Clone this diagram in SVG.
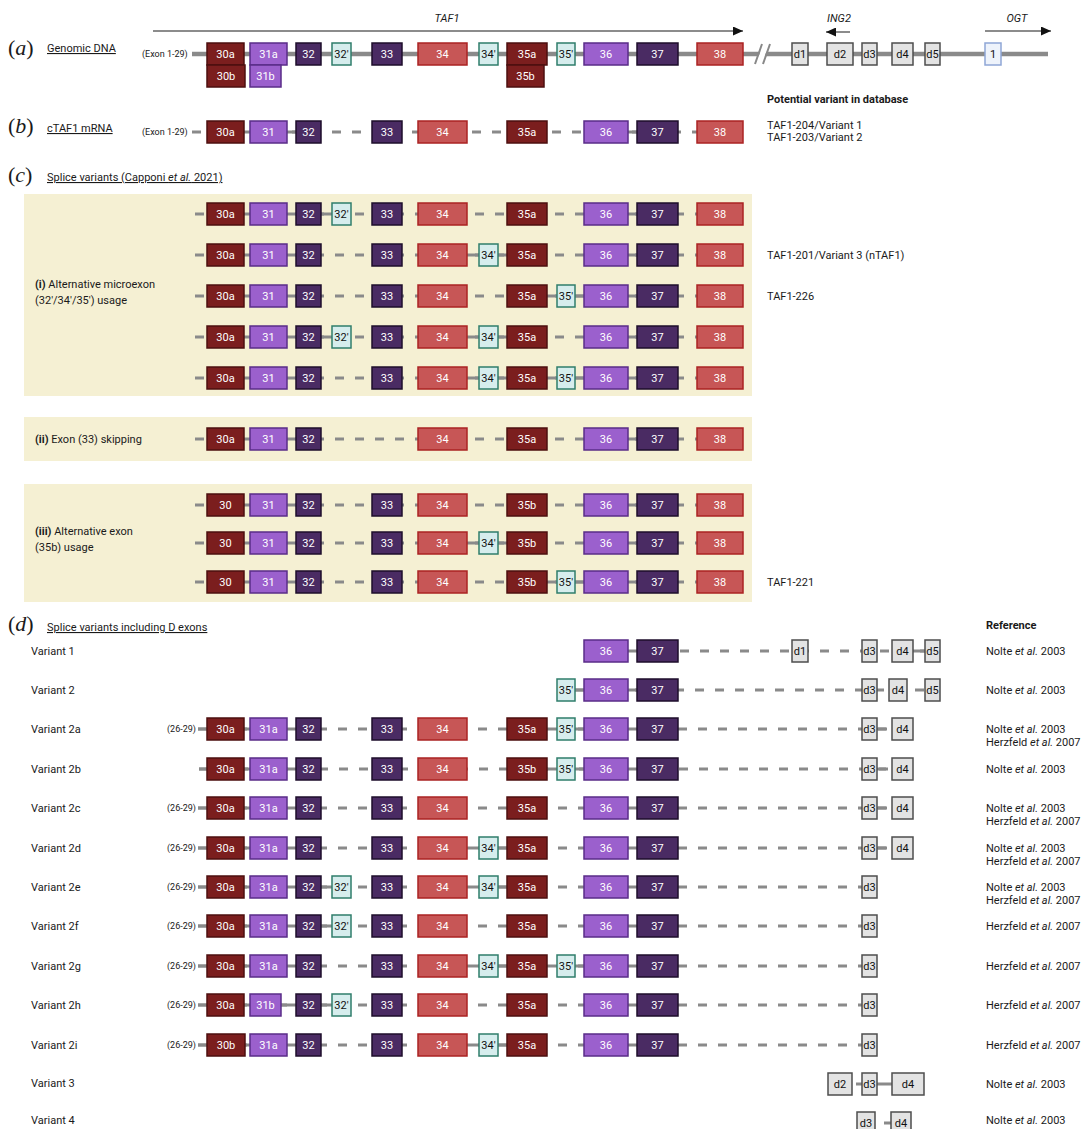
<svg xmlns="http://www.w3.org/2000/svg" width="1087" height="1129" viewBox="0 0 1087 1129">
<defs>
<style>
text{font-family:Roboto,"Liberation Sans",sans-serif;font-size:11px;fill:#1a1a1a}
.w{fill:#fff;text-anchor:middle}
.k{fill:#111;text-anchor:middle}
.sm{font-size:9px}
.b{font-weight:bold}
.u{text-decoration:underline}
.sec{font-family:"Liberation Serif",serif;font-size:22px}
.it{font-style:italic}
rect{stroke-width:1.5}
.dr{fill:#7b1e1e;stroke:#4c0f0f}
.mp{fill:#9b60cd;stroke:#5a2c88}
.dp{fill:#4a2b63;stroke:#1e0e2b}
.sr{fill:#c75656;stroke:#ab2323}
.mx{fill:#d6eded;stroke:#2f7d6b}
.dx{fill:#e3e3e3;stroke:#4d4d4d}
.og{fill:#eef3fb;stroke:#8fa6d6}
.pn{fill:#f5f0d3;stroke:none}
.ln{stroke:#8a8a8a;stroke-width:3;fill:none}
.dsh{stroke-dasharray:9 11}
.gen{stroke:#8a8a8a;stroke-width:4.5;fill:none}
.ar{stroke:#666;stroke-width:1.5;fill:none;marker-end:url(#ah)}
</style>
<marker id="ah" markerUnits="userSpaceOnUse" markerWidth="10" markerHeight="9" refX="10" refY="4.5" orient="auto"><path d="M0,0L10,4.5L0,9z" fill="#111"/></marker>
</defs>
<rect width="1087" height="1129" fill="#fff"/>
<g id="panels">
<rect class="pn" x="24" y="194" width="728" height="202"/>
<rect class="pn" x="24" y="417" width="728" height="44"/>
<rect class="pn" x="24" y="484" width="728" height="118"/>
</g>
<g id="connectors">
<path class="gen" d="M192 54H1048"/>
<polygon points="756,64 763,44 769,44 762,64" fill="#fff"/>
<path d="M755 64L762 44M763 64L770 44" stroke="#888" stroke-width="2" fill="none"/>
<path class="ar" d="M153 31H743"/>
<path class="ar" d="M850 32H826"/>
<path class="ar" d="M985 31H1051"/>
<path class="ln dsh" d="M192 132H743M195 214H743M195 255H743M195 296H743M195 337H743M195 378H743M195 439H743M195 505H743M195 543H743M195 582H743"/>
<path class="ln" d="M244 132H250M287 132H296M628 132H637"/>
<path class="ln" d="M244 214H250M287 214H296M321 214H332M628 214H637"/>
<path class="ln" d="M244 255H250M287 255H296M467 255H479M498 255H507M628 255H637"/>
<path class="ln" d="M244 296H250M287 296H296M547 296H557M575 296H584M628 296H637"/>
<path class="ln" d="M244 337H250M287 337H296M321 337H332M467 337H479M498 337H507M628 337H637"/>
<path class="ln" d="M244 378H250M287 378H296M467 378H479M498 378H507M547 378H557M575 378H584M628 378H637"/>
<path class="ln" d="M244 439H250M287 439H296M628 439H637"/>
<path class="ln" d="M244 505H250M287 505H296M628 505H637"/>
<path class="ln" d="M244 543H250M287 543H296M467 543H479M498 543H507M628 543H637"/>
<path class="ln" d="M244 582H250M287 582H296M547 582H557M575 582H584M628 582H637"/>
<path class="ln dsh" d="M680 651H925M575 690H940M198 729H892M199 769H892M198 808H892M198 848H892M198 887H862M198 926H862M198 966H862M198 1005H862M198 1045H862"/>
<path class="ln" d="M628 651H637M913 651H925"/>
<path class="ln" d="M575 690H584M628 690H637"/>
<path class="ln" d="M198 729H207M244 729H250M287 729H296M547 729H557M575 729H584M628 729H637M877 729H886"/>
<path class="ln" d="M199 769H207M244 769H250M287 769H296M547 769H557M575 769H584M628 769H637M877 769H886"/>
<path class="ln" d="M198 808H207M244 808H250M287 808H296M628 808H637M877 808H886"/>
<path class="ln" d="M198 848H207M244 848H250M287 848H296M467 848H479M498 848H507M628 848H637M877 848H886"/>
<path class="ln" d="M198 887H207M244 887H250M287 887H296M321 887H332M467 887H479M498 887H507M628 887H637"/>
<path class="ln" d="M198 926H207M244 926H250M287 926H296M321 926H332M628 926H637"/>
<path class="ln" d="M198 966H207M244 966H250M287 966H296M467 966H479M498 966H507M547 966H557M575 966H584M628 966H637"/>
<path class="ln" d="M198 1005H207M244 1005H250M281 1005H296M321 1005H332M628 1005H637"/>
<path class="ln" d="M198 1045H207M244 1045H250M287 1045H296M467 1045H479M498 1045H507M628 1045H637"/>
<path class="ln" d="M856 1084H862M877 1084H892M884 1123H891"/>
</g>
<g id="labels">
<text class="sec" x="8" y="55">(<tspan class="it">a</tspan>)</text>
<text class="u" x="47" y="52">Genomic DNA</text>
<text class="sm" x="142" y="57">(Exon 1-29)</text>
<text class="it" x="447" y="22" font-size="12" text-anchor="middle">TAF1</text>
<text class="it" x="839" y="22" font-size="12" text-anchor="middle">ING2</text>
<text class="it" x="1017" y="22" font-size="12" text-anchor="middle">OGT</text>
<text class="b" x="767" y="103">Potential variant in database</text>
<text x="767" y="129">TAF1-204/Variant 1</text>
<text x="767" y="141">TAF1-203/Variant 2</text>
<text class="sec" x="8" y="133">(<tspan class="it">b</tspan>)</text>
<text class="u" x="47" y="132">cTAF1 mRNA</text>
<text class="sm" x="142" y="135">(Exon 1-29)</text>
<text class="sec" x="8" y="182">(<tspan class="it">c</tspan>)</text>
<text class="u" x="47" y="181">Splice variants (Capponi <tspan class="it">et al.</tspan> 2021)</text>
<text x="35" y="288"><tspan class="b">(i)</tspan> Alternative microexon</text>
<text x="35" y="304">(32′/34′/35′) usage</text>
<text x="35" y="443"><tspan class="b">(ii)</tspan> Exon (33) skipping</text>
<text x="35" y="535"><tspan class="b">(iii)</tspan> Alternative exon</text>
<text x="35" y="551">(35b) usage</text>
<text x="767" y="259">TAF1-201/Variant 3 (nTAF1)</text>
<text x="767" y="300">TAF1-226</text>
<text x="767" y="586">TAF1-221</text>
<text class="sec" x="8" y="631">(<tspan class="it">d</tspan>)</text>
<text class="u" x="47" y="631">Splice variants including D exons</text>
<text class="b" x="986" y="629">Reference</text>
<text x="31" y="655">Variant 1</text>
<text x="31" y="694">Variant 2</text>
<text x="31" y="733">Variant 2a</text>
<text x="31" y="773">Variant 2b</text>
<text x="31" y="812">Variant 2c</text>
<text x="31" y="852">Variant 2d</text>
<text x="31" y="891">Variant 2e</text>
<text x="31" y="930">Variant 2f</text>
<text x="31" y="970">Variant 2g</text>
<text x="31" y="1009">Variant 2h</text>
<text x="31" y="1049">Variant 2i</text>
<text x="31" y="1087">Variant 3</text>
<text x="31" y="1124">Variant 4</text>
<text class="sm" x="167" y="732">(26-29)</text>
<text class="sm" x="167" y="811">(26-29)</text>
<text class="sm" x="167" y="851">(26-29)</text>
<text class="sm" x="167" y="890">(26-29)</text>
<text class="sm" x="167" y="929">(26-29)</text>
<text class="sm" x="167" y="969">(26-29)</text>
<text class="sm" x="167" y="1008">(26-29)</text>
<text class="sm" x="167" y="1048">(26-29)</text>
<text x="986" y="655">Nolte <tspan class="it">et al.</tspan> 2003</text>
<text x="986" y="694">Nolte <tspan class="it">et al.</tspan> 2003</text>
<text x="986" y="733">Nolte <tspan class="it">et al.</tspan> 2003</text>
<text x="986" y="746">Herzfeld <tspan class="it">et al.</tspan> 2007</text>
<text x="986" y="773">Nolte <tspan class="it">et al.</tspan> 2003</text>
<text x="986" y="812">Nolte <tspan class="it">et al.</tspan> 2003</text>
<text x="986" y="825">Herzfeld <tspan class="it">et al.</tspan> 2007</text>
<text x="986" y="852">Nolte <tspan class="it">et al.</tspan> 2003</text>
<text x="986" y="865">Herzfeld <tspan class="it">et al.</tspan> 2007</text>
<text x="986" y="891">Nolte <tspan class="it">et al.</tspan> 2003</text>
<text x="986" y="904">Herzfeld <tspan class="it">et al.</tspan> 2007</text>
<text x="986" y="930">Herzfeld <tspan class="it">et al.</tspan> 2007</text>
<text x="986" y="970">Herzfeld <tspan class="it">et al.</tspan> 2007</text>
<text x="986" y="1009">Herzfeld <tspan class="it">et al.</tspan> 2007</text>
<text x="986" y="1049">Herzfeld <tspan class="it">et al.</tspan> 2007</text>
<text x="986" y="1088">Nolte <tspan class="it">et al.</tspan> 2003</text>
<text x="986" y="1124">Nolte <tspan class="it">et al.</tspan> 2003</text>
</g>
<g id="row-a" transform="translate(0,43)">
<g id="a-30a"><rect class="dr" x="207" width="37" height="22"/><text class="w" x="225.5" y="15">30a</text></g>
<g id="a-30b"><rect class="dr" x="207" y="22" width="38" height="22"/><text class="w" x="226" y="37">30b</text></g>
<g id="a-31a"><rect class="mp" x="250" width="37" height="22"/><text class="w" x="268.5" y="15">31a</text></g>
<g id="a-31b"><rect class="mp" x="250" y="22" width="31" height="22"/><text class="w" x="265.5" y="37">31b</text></g>
<g id="a-32"><rect class="dp" x="296" width="25" height="22"/><text class="w" x="308.5" y="15">32</text></g>
<g id="a-32p"><rect class="mx" x="332" width="19" height="22"/><text class="k" x="341.5" y="15">32′</text></g>
<g id="a-33"><rect class="dp" x="372" width="30" height="22"/><text class="w" x="387" y="15">33</text></g>
<g id="a-34"><rect class="sr" x="418" width="49" height="22"/><text class="w" x="442.5" y="15">34</text></g>
<g id="a-34p"><rect class="mx" x="479" width="19" height="22"/><text class="k" x="488.5" y="15">34′</text></g>
<g id="a-35a"><rect class="dr" x="507" width="40" height="22"/><text class="w" x="527" y="15">35a</text></g>
<g id="a-35b"><rect class="dr" x="507" y="22" width="37" height="22"/><text class="w" x="525.5" y="37">35b</text></g>
<g id="a-35p"><rect class="mx" x="557" width="18" height="22"/><text class="k" x="566" y="15">35′</text></g>
<g id="a-36"><rect class="mp" x="584" width="44" height="22"/><text class="w" x="606" y="15">36</text></g>
<g id="a-37"><rect class="dp" x="637" width="41" height="22"/><text class="w" x="657.5" y="15">37</text></g>
<g id="a-38"><rect class="sr" x="697" width="46" height="22"/><text class="w" x="720" y="15">38</text></g>
<g id="a-d1"><rect class="dx" x="792" width="16" height="22"/><text class="k" x="800" y="15">d1</text></g>
<g id="a-d2"><rect class="dx" x="827" width="26" height="22"/><text class="k" x="840" y="15">d2</text></g>
<g id="a-d3"><rect class="dx" x="862" width="15" height="22"/><text class="k" x="869.5" y="15">d3</text></g>
<g id="a-d4"><rect class="dx" x="892" width="21" height="22"/><text class="k" x="902.5" y="15">d4</text></g>
<g id="a-d5"><rect class="dx" x="925" width="15" height="22"/><text class="k" x="932.5" y="15">d5</text></g>
<g id="a-ogt1"><rect class="og" x="985" width="16" height="22"/><text class="k" x="993" y="15">1</text></g>
</g>
<g id="row-b" transform="translate(0,121)">
<g id="b-30a"><rect class="dr" x="207" width="37" height="22"/><text class="w" x="225.5" y="15">30a</text></g>
<g id="b-31"><rect class="mp" x="250" width="37" height="22"/><text class="w" x="268.5" y="15">31</text></g>
<g id="b-32"><rect class="dp" x="296" width="25" height="22"/><text class="w" x="308.5" y="15">32</text></g>
<g id="b-33"><rect class="dp" x="372" width="30" height="22"/><text class="w" x="387" y="15">33</text></g>
<g id="b-34"><rect class="sr" x="418" width="49" height="22"/><text class="w" x="442.5" y="15">34</text></g>
<g id="b-35a"><rect class="dr" x="507" width="40" height="22"/><text class="w" x="527" y="15">35a</text></g>
<g id="b-36"><rect class="mp" x="584" width="44" height="22"/><text class="w" x="606" y="15">36</text></g>
<g id="b-37"><rect class="dp" x="637" width="41" height="22"/><text class="w" x="657.5" y="15">37</text></g>
<g id="b-38"><rect class="sr" x="697" width="46" height="22"/><text class="w" x="720" y="15">38</text></g>
</g>
<g id="row-c1" transform="translate(0,203)">
<g id="c1-30a"><rect class="dr" x="207" width="37" height="22"/><text class="w" x="225.5" y="15">30a</text></g>
<g id="c1-31"><rect class="mp" x="250" width="37" height="22"/><text class="w" x="268.5" y="15">31</text></g>
<g id="c1-32"><rect class="dp" x="296" width="25" height="22"/><text class="w" x="308.5" y="15">32</text></g>
<g id="c1-32p"><rect class="mx" x="332" width="19" height="22"/><text class="k" x="341.5" y="15">32′</text></g>
<g id="c1-33"><rect class="dp" x="372" width="30" height="22"/><text class="w" x="387" y="15">33</text></g>
<g id="c1-34"><rect class="sr" x="418" width="49" height="22"/><text class="w" x="442.5" y="15">34</text></g>
<g id="c1-35a"><rect class="dr" x="507" width="40" height="22"/><text class="w" x="527" y="15">35a</text></g>
<g id="c1-36"><rect class="mp" x="584" width="44" height="22"/><text class="w" x="606" y="15">36</text></g>
<g id="c1-37"><rect class="dp" x="637" width="41" height="22"/><text class="w" x="657.5" y="15">37</text></g>
<g id="c1-38"><rect class="sr" x="697" width="46" height="22"/><text class="w" x="720" y="15">38</text></g>
</g>
<g id="row-c2" transform="translate(0,244)">
<g id="c2-30a"><rect class="dr" x="207" width="37" height="22"/><text class="w" x="225.5" y="15">30a</text></g>
<g id="c2-31"><rect class="mp" x="250" width="37" height="22"/><text class="w" x="268.5" y="15">31</text></g>
<g id="c2-32"><rect class="dp" x="296" width="25" height="22"/><text class="w" x="308.5" y="15">32</text></g>
<g id="c2-33"><rect class="dp" x="372" width="30" height="22"/><text class="w" x="387" y="15">33</text></g>
<g id="c2-34"><rect class="sr" x="418" width="49" height="22"/><text class="w" x="442.5" y="15">34</text></g>
<g id="c2-34p"><rect class="mx" x="479" width="19" height="22"/><text class="k" x="488.5" y="15">34′</text></g>
<g id="c2-35a"><rect class="dr" x="507" width="40" height="22"/><text class="w" x="527" y="15">35a</text></g>
<g id="c2-36"><rect class="mp" x="584" width="44" height="22"/><text class="w" x="606" y="15">36</text></g>
<g id="c2-37"><rect class="dp" x="637" width="41" height="22"/><text class="w" x="657.5" y="15">37</text></g>
<g id="c2-38"><rect class="sr" x="697" width="46" height="22"/><text class="w" x="720" y="15">38</text></g>
</g>
<g id="row-c3" transform="translate(0,285)">
<g id="c3-30a"><rect class="dr" x="207" width="37" height="22"/><text class="w" x="225.5" y="15">30a</text></g>
<g id="c3-31"><rect class="mp" x="250" width="37" height="22"/><text class="w" x="268.5" y="15">31</text></g>
<g id="c3-32"><rect class="dp" x="296" width="25" height="22"/><text class="w" x="308.5" y="15">32</text></g>
<g id="c3-33"><rect class="dp" x="372" width="30" height="22"/><text class="w" x="387" y="15">33</text></g>
<g id="c3-34"><rect class="sr" x="418" width="49" height="22"/><text class="w" x="442.5" y="15">34</text></g>
<g id="c3-35a"><rect class="dr" x="507" width="40" height="22"/><text class="w" x="527" y="15">35a</text></g>
<g id="c3-35p"><rect class="mx" x="557" width="18" height="22"/><text class="k" x="566" y="15">35′</text></g>
<g id="c3-36"><rect class="mp" x="584" width="44" height="22"/><text class="w" x="606" y="15">36</text></g>
<g id="c3-37"><rect class="dp" x="637" width="41" height="22"/><text class="w" x="657.5" y="15">37</text></g>
<g id="c3-38"><rect class="sr" x="697" width="46" height="22"/><text class="w" x="720" y="15">38</text></g>
</g>
<g id="row-c4" transform="translate(0,326)">
<g id="c4-30a"><rect class="dr" x="207" width="37" height="22"/><text class="w" x="225.5" y="15">30a</text></g>
<g id="c4-31"><rect class="mp" x="250" width="37" height="22"/><text class="w" x="268.5" y="15">31</text></g>
<g id="c4-32"><rect class="dp" x="296" width="25" height="22"/><text class="w" x="308.5" y="15">32</text></g>
<g id="c4-32p"><rect class="mx" x="332" width="19" height="22"/><text class="k" x="341.5" y="15">32′</text></g>
<g id="c4-33"><rect class="dp" x="372" width="30" height="22"/><text class="w" x="387" y="15">33</text></g>
<g id="c4-34"><rect class="sr" x="418" width="49" height="22"/><text class="w" x="442.5" y="15">34</text></g>
<g id="c4-34p"><rect class="mx" x="479" width="19" height="22"/><text class="k" x="488.5" y="15">34′</text></g>
<g id="c4-35a"><rect class="dr" x="507" width="40" height="22"/><text class="w" x="527" y="15">35a</text></g>
<g id="c4-36"><rect class="mp" x="584" width="44" height="22"/><text class="w" x="606" y="15">36</text></g>
<g id="c4-37"><rect class="dp" x="637" width="41" height="22"/><text class="w" x="657.5" y="15">37</text></g>
<g id="c4-38"><rect class="sr" x="697" width="46" height="22"/><text class="w" x="720" y="15">38</text></g>
</g>
<g id="row-c5" transform="translate(0,367)">
<g id="c5-30a"><rect class="dr" x="207" width="37" height="22"/><text class="w" x="225.5" y="15">30a</text></g>
<g id="c5-31"><rect class="mp" x="250" width="37" height="22"/><text class="w" x="268.5" y="15">31</text></g>
<g id="c5-32"><rect class="dp" x="296" width="25" height="22"/><text class="w" x="308.5" y="15">32</text></g>
<g id="c5-33"><rect class="dp" x="372" width="30" height="22"/><text class="w" x="387" y="15">33</text></g>
<g id="c5-34"><rect class="sr" x="418" width="49" height="22"/><text class="w" x="442.5" y="15">34</text></g>
<g id="c5-34p"><rect class="mx" x="479" width="19" height="22"/><text class="k" x="488.5" y="15">34′</text></g>
<g id="c5-35a"><rect class="dr" x="507" width="40" height="22"/><text class="w" x="527" y="15">35a</text></g>
<g id="c5-35p"><rect class="mx" x="557" width="18" height="22"/><text class="k" x="566" y="15">35′</text></g>
<g id="c5-36"><rect class="mp" x="584" width="44" height="22"/><text class="w" x="606" y="15">36</text></g>
<g id="c5-37"><rect class="dp" x="637" width="41" height="22"/><text class="w" x="657.5" y="15">37</text></g>
<g id="c5-38"><rect class="sr" x="697" width="46" height="22"/><text class="w" x="720" y="15">38</text></g>
</g>
<g id="row-c6" transform="translate(0,428)">
<g id="c6-30a"><rect class="dr" x="207" width="37" height="22"/><text class="w" x="225.5" y="15">30a</text></g>
<g id="c6-31"><rect class="mp" x="250" width="37" height="22"/><text class="w" x="268.5" y="15">31</text></g>
<g id="c6-32"><rect class="dp" x="296" width="25" height="22"/><text class="w" x="308.5" y="15">32</text></g>
<g id="c6-34"><rect class="sr" x="418" width="49" height="22"/><text class="w" x="442.5" y="15">34</text></g>
<g id="c6-35a"><rect class="dr" x="507" width="40" height="22"/><text class="w" x="527" y="15">35a</text></g>
<g id="c6-36"><rect class="mp" x="584" width="44" height="22"/><text class="w" x="606" y="15">36</text></g>
<g id="c6-37"><rect class="dp" x="637" width="41" height="22"/><text class="w" x="657.5" y="15">37</text></g>
<g id="c6-38"><rect class="sr" x="697" width="46" height="22"/><text class="w" x="720" y="15">38</text></g>
</g>
<g id="row-c7" transform="translate(0,494)">
<g id="c7-30"><rect class="dr" x="207" width="37" height="22"/><text class="w" x="225.5" y="15">30</text></g>
<g id="c7-31"><rect class="mp" x="250" width="37" height="22"/><text class="w" x="268.5" y="15">31</text></g>
<g id="c7-32"><rect class="dp" x="296" width="25" height="22"/><text class="w" x="308.5" y="15">32</text></g>
<g id="c7-33"><rect class="dp" x="372" width="30" height="22"/><text class="w" x="387" y="15">33</text></g>
<g id="c7-34"><rect class="sr" x="418" width="49" height="22"/><text class="w" x="442.5" y="15">34</text></g>
<g id="c7-35b"><rect class="dr" x="507" width="40" height="22"/><text class="w" x="527" y="15">35b</text></g>
<g id="c7-36"><rect class="mp" x="584" width="44" height="22"/><text class="w" x="606" y="15">36</text></g>
<g id="c7-37"><rect class="dp" x="637" width="41" height="22"/><text class="w" x="657.5" y="15">37</text></g>
<g id="c7-38"><rect class="sr" x="697" width="46" height="22"/><text class="w" x="720" y="15">38</text></g>
</g>
<g id="row-c8" transform="translate(0,532)">
<g id="c8-30"><rect class="dr" x="207" width="37" height="22"/><text class="w" x="225.5" y="15">30</text></g>
<g id="c8-31"><rect class="mp" x="250" width="37" height="22"/><text class="w" x="268.5" y="15">31</text></g>
<g id="c8-32"><rect class="dp" x="296" width="25" height="22"/><text class="w" x="308.5" y="15">32</text></g>
<g id="c8-33"><rect class="dp" x="372" width="30" height="22"/><text class="w" x="387" y="15">33</text></g>
<g id="c8-34"><rect class="sr" x="418" width="49" height="22"/><text class="w" x="442.5" y="15">34</text></g>
<g id="c8-34p"><rect class="mx" x="479" width="19" height="22"/><text class="k" x="488.5" y="15">34′</text></g>
<g id="c8-35b"><rect class="dr" x="507" width="40" height="22"/><text class="w" x="527" y="15">35b</text></g>
<g id="c8-36"><rect class="mp" x="584" width="44" height="22"/><text class="w" x="606" y="15">36</text></g>
<g id="c8-37"><rect class="dp" x="637" width="41" height="22"/><text class="w" x="657.5" y="15">37</text></g>
<g id="c8-38"><rect class="sr" x="697" width="46" height="22"/><text class="w" x="720" y="15">38</text></g>
</g>
<g id="row-c9" transform="translate(0,571)">
<g id="c9-30"><rect class="dr" x="207" width="37" height="22"/><text class="w" x="225.5" y="15">30</text></g>
<g id="c9-31"><rect class="mp" x="250" width="37" height="22"/><text class="w" x="268.5" y="15">31</text></g>
<g id="c9-32"><rect class="dp" x="296" width="25" height="22"/><text class="w" x="308.5" y="15">32</text></g>
<g id="c9-33"><rect class="dp" x="372" width="30" height="22"/><text class="w" x="387" y="15">33</text></g>
<g id="c9-34"><rect class="sr" x="418" width="49" height="22"/><text class="w" x="442.5" y="15">34</text></g>
<g id="c9-35b"><rect class="dr" x="507" width="40" height="22"/><text class="w" x="527" y="15">35b</text></g>
<g id="c9-35p"><rect class="mx" x="557" width="18" height="22"/><text class="k" x="566" y="15">35′</text></g>
<g id="c9-36"><rect class="mp" x="584" width="44" height="22"/><text class="w" x="606" y="15">36</text></g>
<g id="c9-37"><rect class="dp" x="637" width="41" height="22"/><text class="w" x="657.5" y="15">37</text></g>
<g id="c9-38"><rect class="sr" x="697" width="46" height="22"/><text class="w" x="720" y="15">38</text></g>
</g>
<g id="row-v1" transform="translate(0,640)">
<g id="v1-36"><rect class="mp" x="584" width="44" height="22"/><text class="w" x="606" y="15">36</text></g>
<g id="v1-37"><rect class="dp" x="637" width="41" height="22"/><text class="w" x="657.5" y="15">37</text></g>
<g id="v1-d1"><rect class="dx" x="792" width="16" height="22"/><text class="k" x="800" y="15">d1</text></g>
<g id="v1-d3"><rect class="dx" x="862" width="15" height="22"/><text class="k" x="869.5" y="15">d3</text></g>
<g id="v1-d4"><rect class="dx" x="892" width="21" height="22"/><text class="k" x="902.5" y="15">d4</text></g>
<g id="v1-d5"><rect class="dx" x="925" width="15" height="22"/><text class="k" x="932.5" y="15">d5</text></g>
</g>
<g id="row-v2" transform="translate(0,679)">
<g id="v2-35p"><rect class="mx" x="557" width="18" height="22"/><text class="k" x="566" y="15">35′</text></g>
<g id="v2-36"><rect class="mp" x="584" width="44" height="22"/><text class="w" x="606" y="15">36</text></g>
<g id="v2-37"><rect class="dp" x="637" width="41" height="22"/><text class="w" x="657.5" y="15">37</text></g>
<g id="v2-d3"><rect class="dx" x="862" width="15" height="22"/><text class="k" x="869.5" y="15">d3</text></g>
<g id="v2-d4"><rect class="dx" x="889" width="18" height="22"/><text class="k" x="898" y="15">d4</text></g>
<g id="v2-d5"><rect class="dx" x="925" width="15" height="22"/><text class="k" x="932.5" y="15">d5</text></g>
</g>
<g id="row-v2a" transform="translate(0,718)">
<g id="v2a-30a"><rect class="dr" x="207" width="37" height="22"/><text class="w" x="225.5" y="15">30a</text></g>
<g id="v2a-31a"><rect class="mp" x="250" width="37" height="22"/><text class="w" x="268.5" y="15">31a</text></g>
<g id="v2a-32"><rect class="dp" x="296" width="25" height="22"/><text class="w" x="308.5" y="15">32</text></g>
<g id="v2a-33"><rect class="dp" x="372" width="30" height="22"/><text class="w" x="387" y="15">33</text></g>
<g id="v2a-34"><rect class="sr" x="418" width="49" height="22"/><text class="w" x="442.5" y="15">34</text></g>
<g id="v2a-35a"><rect class="dr" x="507" width="40" height="22"/><text class="w" x="527" y="15">35a</text></g>
<g id="v2a-35p"><rect class="mx" x="557" width="18" height="22"/><text class="k" x="566" y="15">35′</text></g>
<g id="v2a-36"><rect class="mp" x="584" width="44" height="22"/><text class="w" x="606" y="15">36</text></g>
<g id="v2a-37"><rect class="dp" x="637" width="41" height="22"/><text class="w" x="657.5" y="15">37</text></g>
<g id="v2a-d3"><rect class="dx" x="862" width="15" height="22"/><text class="k" x="869.5" y="15">d3</text></g>
<g id="v2a-d4"><rect class="dx" x="892" width="21" height="22"/><text class="k" x="902.5" y="15">d4</text></g>
</g>
<g id="row-v2b" transform="translate(0,758)">
<g id="v2b-30a"><rect class="dr" x="207" width="37" height="22"/><text class="w" x="225.5" y="15">30a</text></g>
<g id="v2b-31a"><rect class="mp" x="250" width="37" height="22"/><text class="w" x="268.5" y="15">31a</text></g>
<g id="v2b-32"><rect class="dp" x="296" width="25" height="22"/><text class="w" x="308.5" y="15">32</text></g>
<g id="v2b-33"><rect class="dp" x="372" width="30" height="22"/><text class="w" x="387" y="15">33</text></g>
<g id="v2b-34"><rect class="sr" x="418" width="49" height="22"/><text class="w" x="442.5" y="15">34</text></g>
<g id="v2b-35b"><rect class="dr" x="507" width="40" height="22"/><text class="w" x="527" y="15">35b</text></g>
<g id="v2b-35p"><rect class="mx" x="557" width="18" height="22"/><text class="k" x="566" y="15">35′</text></g>
<g id="v2b-36"><rect class="mp" x="584" width="44" height="22"/><text class="w" x="606" y="15">36</text></g>
<g id="v2b-37"><rect class="dp" x="637" width="41" height="22"/><text class="w" x="657.5" y="15">37</text></g>
<g id="v2b-d3"><rect class="dx" x="862" width="15" height="22"/><text class="k" x="869.5" y="15">d3</text></g>
<g id="v2b-d4"><rect class="dx" x="892" width="21" height="22"/><text class="k" x="902.5" y="15">d4</text></g>
</g>
<g id="row-v2c" transform="translate(0,797)">
<g id="v2c-30a"><rect class="dr" x="207" width="37" height="22"/><text class="w" x="225.5" y="15">30a</text></g>
<g id="v2c-31a"><rect class="mp" x="250" width="37" height="22"/><text class="w" x="268.5" y="15">31a</text></g>
<g id="v2c-32"><rect class="dp" x="296" width="25" height="22"/><text class="w" x="308.5" y="15">32</text></g>
<g id="v2c-33"><rect class="dp" x="372" width="30" height="22"/><text class="w" x="387" y="15">33</text></g>
<g id="v2c-34"><rect class="sr" x="418" width="49" height="22"/><text class="w" x="442.5" y="15">34</text></g>
<g id="v2c-35a"><rect class="dr" x="507" width="40" height="22"/><text class="w" x="527" y="15">35a</text></g>
<g id="v2c-36"><rect class="mp" x="584" width="44" height="22"/><text class="w" x="606" y="15">36</text></g>
<g id="v2c-37"><rect class="dp" x="637" width="41" height="22"/><text class="w" x="657.5" y="15">37</text></g>
<g id="v2c-d3"><rect class="dx" x="862" width="15" height="22"/><text class="k" x="869.5" y="15">d3</text></g>
<g id="v2c-d4"><rect class="dx" x="892" width="21" height="22"/><text class="k" x="902.5" y="15">d4</text></g>
</g>
<g id="row-v2d" transform="translate(0,837)">
<g id="v2d-30a"><rect class="dr" x="207" width="37" height="22"/><text class="w" x="225.5" y="15">30a</text></g>
<g id="v2d-31a"><rect class="mp" x="250" width="37" height="22"/><text class="w" x="268.5" y="15">31a</text></g>
<g id="v2d-32"><rect class="dp" x="296" width="25" height="22"/><text class="w" x="308.5" y="15">32</text></g>
<g id="v2d-33"><rect class="dp" x="372" width="30" height="22"/><text class="w" x="387" y="15">33</text></g>
<g id="v2d-34"><rect class="sr" x="418" width="49" height="22"/><text class="w" x="442.5" y="15">34</text></g>
<g id="v2d-34p"><rect class="mx" x="479" width="19" height="22"/><text class="k" x="488.5" y="15">34′</text></g>
<g id="v2d-35a"><rect class="dr" x="507" width="40" height="22"/><text class="w" x="527" y="15">35a</text></g>
<g id="v2d-36"><rect class="mp" x="584" width="44" height="22"/><text class="w" x="606" y="15">36</text></g>
<g id="v2d-37"><rect class="dp" x="637" width="41" height="22"/><text class="w" x="657.5" y="15">37</text></g>
<g id="v2d-d3"><rect class="dx" x="862" width="15" height="22"/><text class="k" x="869.5" y="15">d3</text></g>
<g id="v2d-d4"><rect class="dx" x="892" width="21" height="22"/><text class="k" x="902.5" y="15">d4</text></g>
</g>
<g id="row-v2e" transform="translate(0,876)">
<g id="v2e-30a"><rect class="dr" x="207" width="37" height="22"/><text class="w" x="225.5" y="15">30a</text></g>
<g id="v2e-31a"><rect class="mp" x="250" width="37" height="22"/><text class="w" x="268.5" y="15">31a</text></g>
<g id="v2e-32"><rect class="dp" x="296" width="25" height="22"/><text class="w" x="308.5" y="15">32</text></g>
<g id="v2e-32p"><rect class="mx" x="332" width="19" height="22"/><text class="k" x="341.5" y="15">32′</text></g>
<g id="v2e-33"><rect class="dp" x="372" width="30" height="22"/><text class="w" x="387" y="15">33</text></g>
<g id="v2e-34"><rect class="sr" x="418" width="49" height="22"/><text class="w" x="442.5" y="15">34</text></g>
<g id="v2e-34p"><rect class="mx" x="479" width="19" height="22"/><text class="k" x="488.5" y="15">34′</text></g>
<g id="v2e-35a"><rect class="dr" x="507" width="40" height="22"/><text class="w" x="527" y="15">35a</text></g>
<g id="v2e-36"><rect class="mp" x="584" width="44" height="22"/><text class="w" x="606" y="15">36</text></g>
<g id="v2e-37"><rect class="dp" x="637" width="41" height="22"/><text class="w" x="657.5" y="15">37</text></g>
<g id="v2e-d3"><rect class="dx" x="862" width="15" height="22"/><text class="k" x="869.5" y="15">d3</text></g>
</g>
<g id="row-v2f" transform="translate(0,915)">
<g id="v2f-30a"><rect class="dr" x="207" width="37" height="22"/><text class="w" x="225.5" y="15">30a</text></g>
<g id="v2f-31a"><rect class="mp" x="250" width="37" height="22"/><text class="w" x="268.5" y="15">31a</text></g>
<g id="v2f-32"><rect class="dp" x="296" width="25" height="22"/><text class="w" x="308.5" y="15">32</text></g>
<g id="v2f-32p"><rect class="mx" x="332" width="19" height="22"/><text class="k" x="341.5" y="15">32′</text></g>
<g id="v2f-33"><rect class="dp" x="372" width="30" height="22"/><text class="w" x="387" y="15">33</text></g>
<g id="v2f-34"><rect class="sr" x="418" width="49" height="22"/><text class="w" x="442.5" y="15">34</text></g>
<g id="v2f-35a"><rect class="dr" x="507" width="40" height="22"/><text class="w" x="527" y="15">35a</text></g>
<g id="v2f-36"><rect class="mp" x="584" width="44" height="22"/><text class="w" x="606" y="15">36</text></g>
<g id="v2f-37"><rect class="dp" x="637" width="41" height="22"/><text class="w" x="657.5" y="15">37</text></g>
<g id="v2f-d3"><rect class="dx" x="862" width="15" height="22"/><text class="k" x="869.5" y="15">d3</text></g>
</g>
<g id="row-v2g" transform="translate(0,955)">
<g id="v2g-30a"><rect class="dr" x="207" width="37" height="22"/><text class="w" x="225.5" y="15">30a</text></g>
<g id="v2g-31a"><rect class="mp" x="250" width="37" height="22"/><text class="w" x="268.5" y="15">31a</text></g>
<g id="v2g-32"><rect class="dp" x="296" width="25" height="22"/><text class="w" x="308.5" y="15">32</text></g>
<g id="v2g-33"><rect class="dp" x="372" width="30" height="22"/><text class="w" x="387" y="15">33</text></g>
<g id="v2g-34"><rect class="sr" x="418" width="49" height="22"/><text class="w" x="442.5" y="15">34</text></g>
<g id="v2g-34p"><rect class="mx" x="479" width="19" height="22"/><text class="k" x="488.5" y="15">34′</text></g>
<g id="v2g-35a"><rect class="dr" x="507" width="40" height="22"/><text class="w" x="527" y="15">35a</text></g>
<g id="v2g-35p"><rect class="mx" x="557" width="18" height="22"/><text class="k" x="566" y="15">35′</text></g>
<g id="v2g-36"><rect class="mp" x="584" width="44" height="22"/><text class="w" x="606" y="15">36</text></g>
<g id="v2g-37"><rect class="dp" x="637" width="41" height="22"/><text class="w" x="657.5" y="15">37</text></g>
<g id="v2g-d3"><rect class="dx" x="862" width="15" height="22"/><text class="k" x="869.5" y="15">d3</text></g>
</g>
<g id="row-v2h" transform="translate(0,994)">
<g id="v2h-30a"><rect class="dr" x="207" width="37" height="22"/><text class="w" x="225.5" y="15">30a</text></g>
<g id="v2h-31b"><rect class="mp" x="250" width="31" height="22"/><text class="w" x="265.5" y="15">31b</text></g>
<g id="v2h-32"><rect class="dp" x="296" width="25" height="22"/><text class="w" x="308.5" y="15">32</text></g>
<g id="v2h-32p"><rect class="mx" x="332" width="19" height="22"/><text class="k" x="341.5" y="15">32′</text></g>
<g id="v2h-33"><rect class="dp" x="372" width="30" height="22"/><text class="w" x="387" y="15">33</text></g>
<g id="v2h-34"><rect class="sr" x="418" width="49" height="22"/><text class="w" x="442.5" y="15">34</text></g>
<g id="v2h-35a"><rect class="dr" x="507" width="40" height="22"/><text class="w" x="527" y="15">35a</text></g>
<g id="v2h-36"><rect class="mp" x="584" width="44" height="22"/><text class="w" x="606" y="15">36</text></g>
<g id="v2h-37"><rect class="dp" x="637" width="41" height="22"/><text class="w" x="657.5" y="15">37</text></g>
<g id="v2h-d3"><rect class="dx" x="862" width="15" height="22"/><text class="k" x="869.5" y="15">d3</text></g>
</g>
<g id="row-v2i" transform="translate(0,1034)">
<g id="v2i-30b"><rect class="dr" x="207" width="38" height="22"/><text class="w" x="226" y="15">30b</text></g>
<g id="v2i-31a"><rect class="mp" x="250" width="37" height="22"/><text class="w" x="268.5" y="15">31a</text></g>
<g id="v2i-32"><rect class="dp" x="296" width="25" height="22"/><text class="w" x="308.5" y="15">32</text></g>
<g id="v2i-33"><rect class="dp" x="372" width="30" height="22"/><text class="w" x="387" y="15">33</text></g>
<g id="v2i-34"><rect class="sr" x="418" width="49" height="22"/><text class="w" x="442.5" y="15">34</text></g>
<g id="v2i-34p"><rect class="mx" x="479" width="19" height="22"/><text class="k" x="488.5" y="15">34′</text></g>
<g id="v2i-35a"><rect class="dr" x="507" width="40" height="22"/><text class="w" x="527" y="15">35a</text></g>
<g id="v2i-36"><rect class="mp" x="584" width="44" height="22"/><text class="w" x="606" y="15">36</text></g>
<g id="v2i-37"><rect class="dp" x="637" width="41" height="22"/><text class="w" x="657.5" y="15">37</text></g>
<g id="v2i-d3"><rect class="dx" x="862" width="15" height="22"/><text class="k" x="869.5" y="15">d3</text></g>
</g>
<g id="row-v3" transform="translate(0,1073)">
<g id="v3-d2"><rect class="dx" x="828" width="24" height="22"/><text class="k" x="840" y="15">d2</text></g>
<g id="v3-d3"><rect class="dx" x="862" width="15" height="22"/><text class="k" x="869.5" y="15">d3</text></g>
<g id="v3-d4"><rect class="dx" x="892" width="32" height="22"/><text class="k" x="908" y="15">d4</text></g>
</g>
<g id="row-v4" transform="translate(0,1112)">
<g id="v4-d3"><rect class="dx" x="857" width="18" height="22"/><text class="k" x="866" y="15">d3</text></g>
<g id="v4-d4"><rect class="dx" x="891" width="20" height="22"/><text class="k" x="901" y="15">d4</text></g>
</g>
</svg>
